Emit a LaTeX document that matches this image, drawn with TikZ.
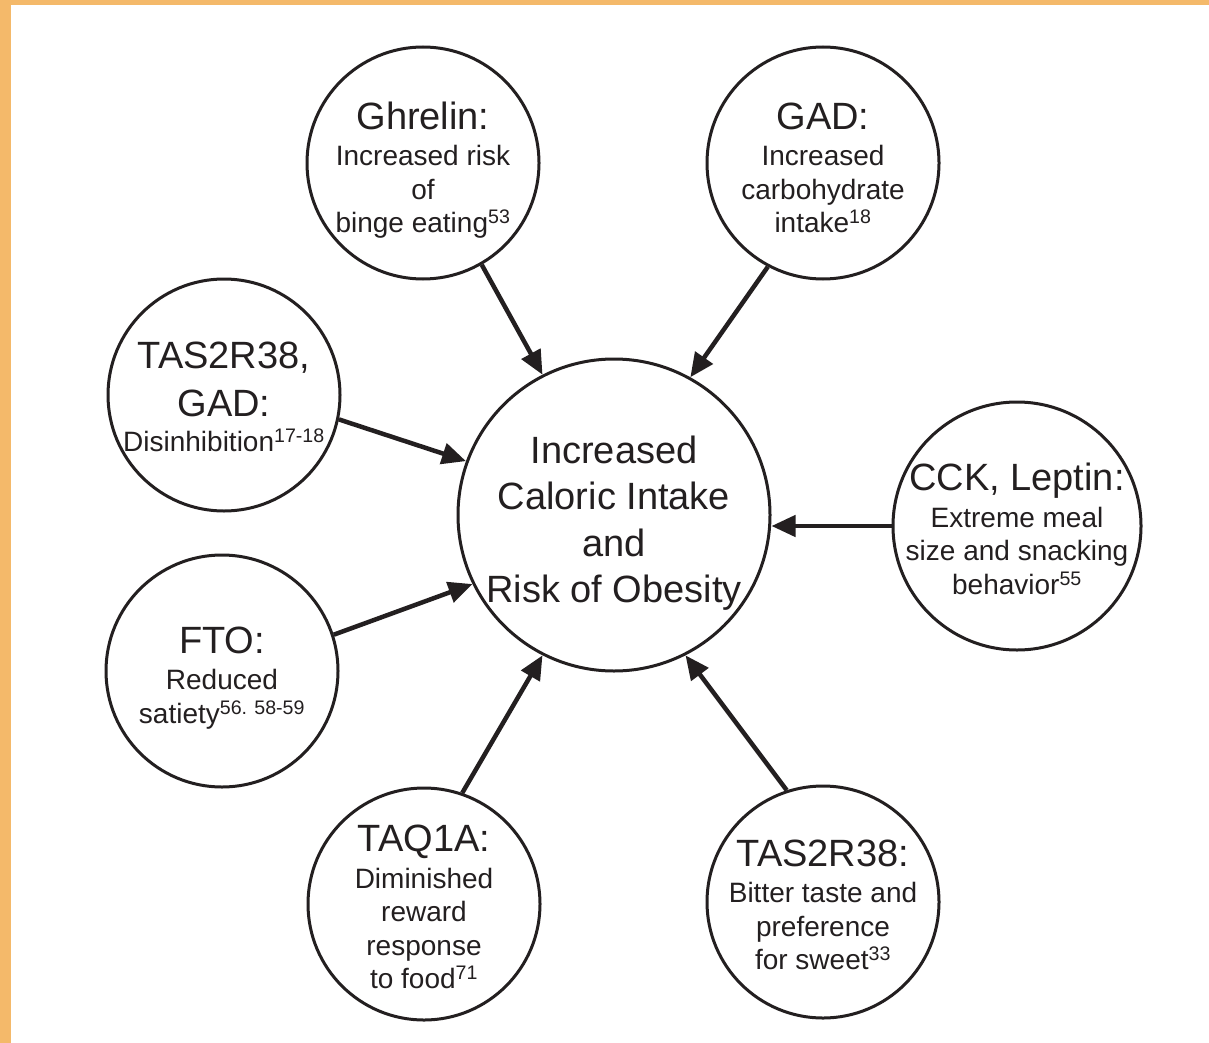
\documentclass[tikz,border=0pt]{standalone}
\usepackage{fontspec}
\setmainfont{Liberation Sans}
\usetikzlibrary{arrows.meta}
\definecolor{frameorange}{HTML}{F4B96A}
\definecolor{ink}{HTML}{231F20}
\newcommand\ttl{\fontsize{38}{40}\selectfont}
\newcommand\sbt{\fontsize{28}{33.5}\selectfont}
\newcommand\ctr{\fontsize{38}{46.5}\selectfont}
\newcommand\rf[1]{\textsuperscript{#1}}
\begin{document}
\begin{tikzpicture}[x=1pt,y=-1pt,
  bubble/.style={circle,draw=ink,line width=3pt,minimum size=232pt,inner sep=0pt},
  txt/.style={align=center,font=\sbt,text=ink,inner sep=0pt,yshift=-5pt},
  arr/.style={draw=ink,line width=4.5pt,-{Triangle[length=24pt,width=21pt]}}]
\useasboundingbox (0,0) rectangle (1209,1043);
\fill[white] (0,0) rectangle (1209,1043);
\fill[frameorange] (0,0) rectangle (1209,5);
\fill[frameorange] (0,0) rectangle (11,1043);

\node[bubble,minimum size=312pt,
  label={[txt,font=\ctr,yshift=-3pt]center:Increased\\ Caloric Intake\\ and\\ Risk of Obesity}]
  (c) at (614,515) {};

\node[bubble,label={[txt,yshift=-2pt]center:{\ttl Ghrelin:}\\[3pt] Increased risk\\ of\\ binge eating\rf{53}}]
  (gh) at (423,163) {};
\node[bubble,label={[txt]center:{\ttl GAD:}\\[3pt] Increased\\ carbohydrate\\ intake\rf{18}}]
  (gad) at (823,163) {};
\node[bubble,label={[txt,yshift=3pt]center:{\ttl TAS2R38,}\\[14.5pt] {\ttl GAD:}\\[1pt] Disinhibition\rf{17-18}}]
  (tg) at (224,395) {};
\node[bubble,minimum size=248pt,label={[txt,yshift=2pt]center:{\ttl CCK, Leptin:}\\[3pt] Extreme meal\\ size and snacking\\ behavior\rf{55}}]
  (cck) at (1017,526) {};
\node[bubble,label={[txt,yshift=-2pt]center:{\ttl FTO:}\\[3pt] Reduced\\ satiety\rf{56. 58-59}}]
  (fto) at (222,671) {};
\node[bubble,label={[txt,yshift=2pt]center:{\ttl TAQ1A:}\\[3pt] Diminished\\ reward\\ response\\ to food\rf{71}}]
  (taq) at (424,904) {};
\node[bubble,label={[txt,yshift=2pt]center:{\ttl TAS2R38:}\\[3pt] Bitter taste and\\ preference\\ for sweet\rf{33}}]
  (tas) at (823,902) {};

\draw[arr] (gh.-60.6) -- (c.117.8);
\draw[arr] (gad.-118.3) -- (c.61.4);
\draw[arr] (tg.-12.2) -- (c.160.8);
\draw[arr] (cck.west) -- (cck.west -| c.east);
\draw[arr] (fto.18.3) -- (c.206.3);
\draw[arr] (taq.71.6) -- (c.243.6);
\draw[arr] (tas.108.3) -- (c.297.9);
\end{tikzpicture}
\end{document}
